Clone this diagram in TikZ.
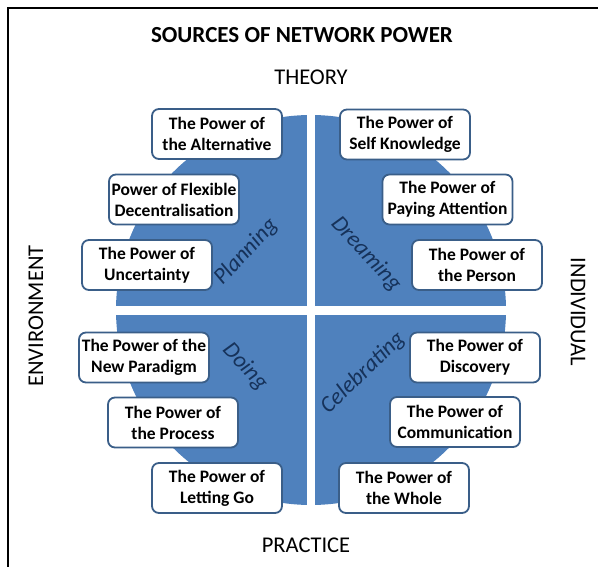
\documentclass[tikz,border=0pt]{standalone}
\usepackage{fontspec}
\setmainfont{Carlito}
\usetikzlibrary{positioning}
\definecolor{quadblue}{HTML}{4F81BD}
\definecolor{boxline}{HTML}{3A5E88}
\definecolor{phasetext}{HTML}{16325A}

\begin{document}
\begin{tikzpicture}[
        x=1pt, y=-1pt,
        power/.style={
            rectangle,
            draw=boxline,
            line width=1.8pt,
            fill=white,
            rounded corners=7pt,
            minimum width=130pt,
            minimum height=50pt,
            inner sep=2pt,
            align=center,
            font=\fontsize{17.5}{21}\selectfont\bfseries
        },
        phase/.style={text=phasetext, font=\fontsize{23}{26}\selectfont\itshape},
        axislabel/.style={font=\fontsize{22.5}{26}\selectfont}
    ]
    \useasboundingbox (0,0) rectangle (598,567);

    % Frame
    \draw[line width=2.5pt] (8,567) -- (8,8) -- (598,8);

    % Headings
    \node[font=\fontsize{23}{26}\selectfont\bfseries] (title) at (302,35) {SOURCES OF NETWORK POWER};
    \node[axislabel] (theory) at (311,77) {THEORY};
    \node[axislabel] (practice) at (306,545) {PRACTICE};
    \node[axislabel, rotate=90] (environment) at (36,316) {ENVIRONMENT};
    \node[axislabel, rotate=-90] (individual) at (578,312) {INDIVIDUAL};

    % Quadrants
    \fill[quadblue] (311,310) circle (195pt);
    \fill[white] (307,110) rectangle (315,510);
    \fill[white] (110,306) rectangle (512,315);

    \node[phase, rotate=47] (planning) at (246,252) {Planning};
    \node[phase, rotate=-47] (dreaming) at (366,254) {Dreaming};
    \node[phase, rotate=-47] (doing) at (245,367) {Doing};
    \node[phase, rotate=44] (celebrating) at (363,373) {Celebrating};

    % Planning
    \node[power] (alternative) at (217,134) {The Power of\\the Alternative};
    \node[power] (flexible) at (174,199.5) {Power of Flexible\\Decentralisation};
    \node[power] (uncertainty) at (147,265) {The Power of\\Uncertainty};

    % Dreaming
    \node[power] (selfknow) at (405,134.5) {The Power of\\Self Knowledge};
    \node[power] (attention) at (447.5,199.5) {The Power of\\Paying Attention};
    \node[power] (person) at (477,265) {The Power of\\the Person};

    % Doing
    \node[power] (paradigm) at (144,357.5) {The Power of the\\New Paradigm};
    \node[power] (process) at (173,422.5) {The Power of\\the Process};
    \node[power] (lettinggo) at (217,488) {The Power of\\Letting Go};

    % Celebrating
    \node[power] (discovery) at (475,357.5) {The Power of\\Discovery};
    \node[power] (communication) at (455,422) {The Power of\\Communication};
    \node[power] (whole) at (404,488) {The Power of\\the Whole};

\end{tikzpicture}
\end{document}
